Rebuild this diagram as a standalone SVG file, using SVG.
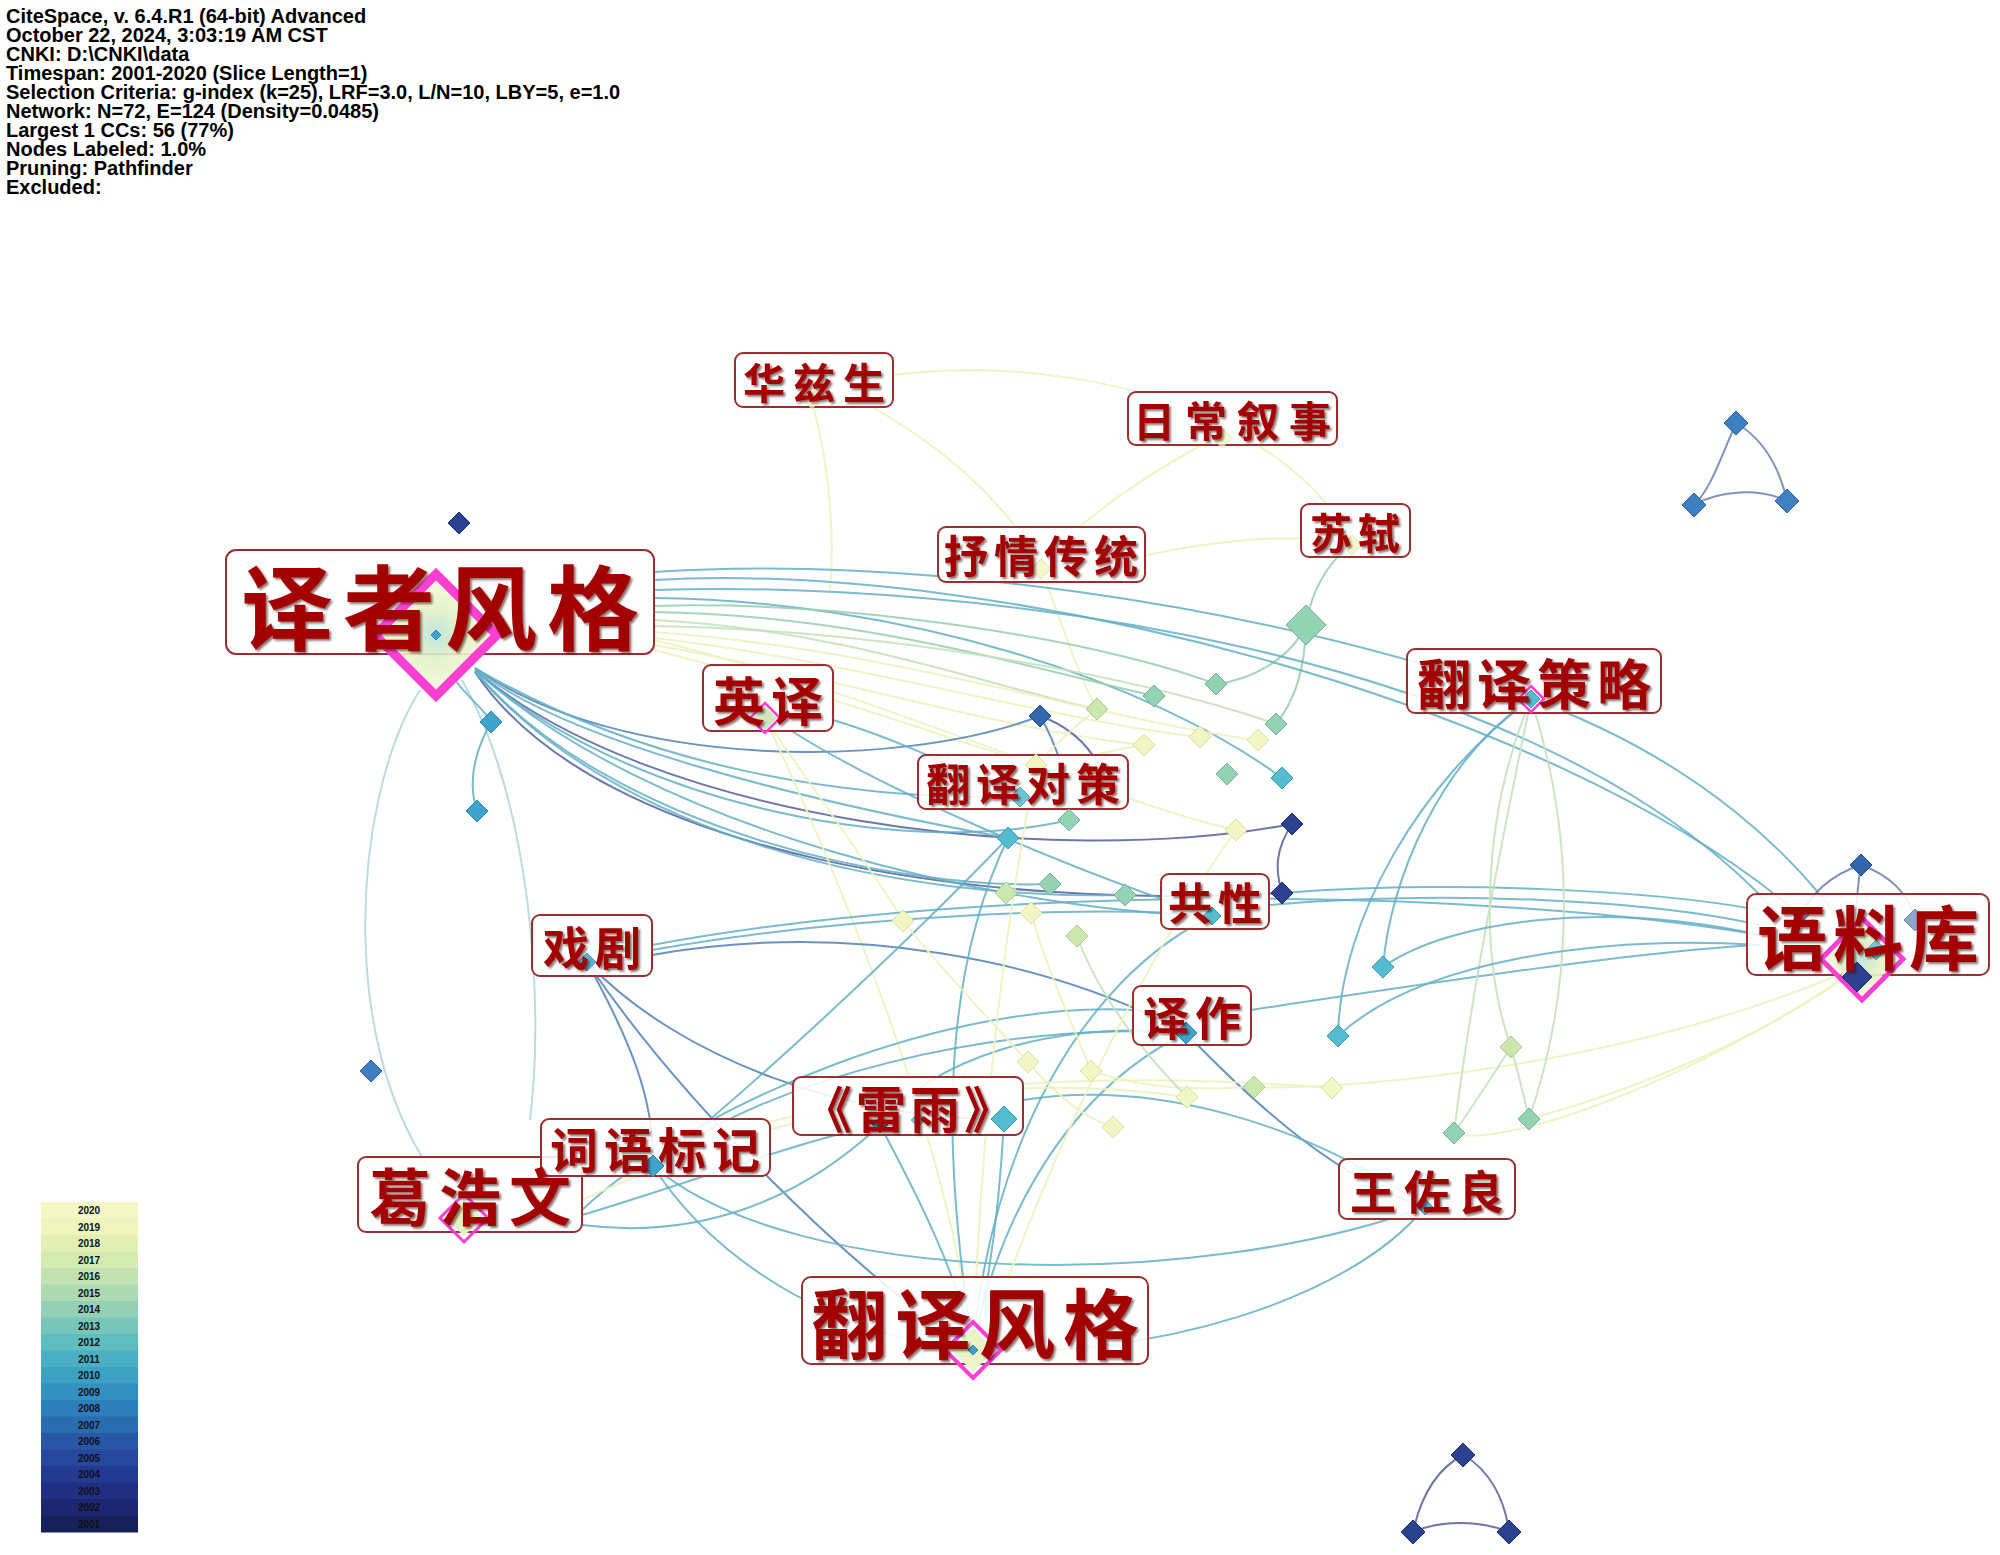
<svg xmlns="http://www.w3.org/2000/svg" width="2000" height="1555" viewBox="0 0 2000 1555">
<defs>
<style>
.info{font-family:"Liberation Sans",Arial,sans-serif;font-weight:bold;font-size:20px;fill:#000}
.leg{font-family:"Liberation Sans",Arial,sans-serif;font-weight:bold;font-size:10px;fill:#111;text-anchor:middle}
.box{fill:#fff;fill-opacity:0.88;stroke:#9b2f2f;stroke-width:2}
.lbl{font-family:"Noto Sans CJK SC","Noto Sans CJK TC",sans-serif;font-weight:bold;fill:#a30000;text-anchor:middle;dominant-baseline:central;filter:url(#sh)}
#edges path{fill:none;stroke-width:2}
.et{stroke:#63afc6;stroke-opacity:.85}
.eb{stroke:#4f80b6;stroke-opacity:.85}
.en{stroke:#525fa0;stroke-opacity:.85}
.ey{stroke:#edf2bf;stroke-opacity:.9}
.eg{stroke:#c4e2bd;stroke-opacity:.9}
.egr{stroke:#9ccfb3;stroke-opacity:.9}
.ebg{stroke:#6f86b5;stroke-opacity:.9}
.nv{fill:#2c418f;stroke:#1f2f70}
.db{fill:#3267ad;stroke:#234f8a}
.bl{fill:#3f80c2;stroke:#2d63a0}
.tb{fill:#3fa3cc;stroke:#2f85ab}
.tl{fill:#55bcd0;stroke:#3a9cb0}
.gr{fill:#93d2b2;stroke:#70b494}
.pg{fill:#cbe7ae;stroke:#a8cc90}
.py{fill:#f1f6c4;stroke:#d8e0a0}
.lb{fill:#8fa6d0;stroke:#6a82b5}
.mg{fill:none;stroke:#ff3fd2}
</style>
<filter id="sh" x="-10%" y="-10%" width="130%" height="140%">
<feDropShadow dx="2" dy="2" stdDeviation="1.2" flood-color="#2a0000" flood-opacity="0.55"/>
</filter>
<radialGradient id="core" cx="50%" cy="50%" r="50%">
<stop offset="0" stop-color="#b9e3d6"/>
<stop offset="0.5" stop-color="#e4f2c6"/>
<stop offset="1" stop-color="#f6f9dc"/>
</radialGradient>
</defs>
<rect width="2000" height="1555" fill="#fff"/>

<g id="info">
<text class="info" x="6" y="23">CiteSpace, v. 6.4.R1 (64-bit) Advanced</text>
<text class="info" x="6" y="42">October 22, 2024, 3:03:19 AM CST</text>
<text class="info" x="6" y="61">CNKI: D:\CNKI\data</text>
<text class="info" x="6" y="80">Timespan: 2001-2020 (Slice Length=1)</text>
<text class="info" x="6" y="99">Selection Criteria: g-index (k=25), LRF=3.0, L/N=10, LBY=5, e=1.0</text>
<text class="info" x="6" y="118">Network: N=72, E=124 (Density=0.0485)</text>
<text class="info" x="6" y="137">Largest 1 CCs: 56 (77%)</text>
<text class="info" x="6" y="156">Nodes Labeled: 1.0%</text>
<text class="info" x="6" y="175">Pruning: Pathfinder</text>
<text class="info" x="6" y="194">Excluded:</text>
</g>

<g id="edges">
<path class="ey" d="M893,375 C1000,360 1150,380 1230,430"/>
<path class="ey" d="M1230,430 C1150,470 1080,520 1040,565"/>
<path class="ey" d="M1230,430 C1290,460 1330,500 1350,540"/>
<path class="ey" d="M1146,555 C1220,540 1280,535 1340,540"/>
<path class="ey" d="M860,400 C950,450 1000,500 1040,560"/>
<path class="ey" d="M812,400 C830,470 835,530 830,590"/>
<path class="ey" d="M1040,565 C1060,620 1080,680 1097,709"/>
<path class="egr" d="M1350,545 C1320,570 1310,600 1306,625"/>
<path class="egr" d="M1306,625 C1290,660 1250,680 1216,684"/>
<path class="egr" d="M1306,625 C1305,670 1295,700 1276,724"/>
<path class="et" d="M654,572 C900,555 1250,600 1531,699"/>
<path class="et" d="M654,580 C1000,560 1550,700 1800,915"/>
<path class="et" d="M654,590 C950,580 1550,640 1790,928"/>
<path class="et" d="M654,598 C900,600 1150,680 1282,778"/>
<path class="egr" d="M654,606 C850,600 1100,640 1216,684"/>
<path class="egr" d="M654,612 C850,615 1000,660 1154,696"/>
<path class="eg" d="M654,620 C850,630 1000,690 1097,709"/>
<path class="eg" d="M654,626 C900,630 1150,680 1276,724"/>
<path class="ey" d="M654,632 C900,650 1100,720 1258,740"/>
<path class="ey" d="M654,638 C850,660 1050,720 1200,737"/>
<path class="ey" d="M654,645 C850,680 1000,730 1144,745"/>
<path class="ey" d="M654,650 C850,700 950,740 1036,765"/>
<path class="ey" d="M654,640 C900,700 1100,800 1236,830"/>
<path class="eb" d="M475,668 C620,770 900,770 1040,716"/>
<path class="en" d="M475,670 C650,820 1050,870 1292,824"/>
<path class="en" d="M475,672 C600,860 1000,910 1282,893"/>
<path class="et" d="M475,668 C650,770 850,800 1020,797"/>
<path class="et" d="M475,670 C650,830 1000,910 1212,916"/>
<path class="et" d="M475,670 C620,800 900,860 1069,820"/>
<path class="et" d="M475,672 C620,840 900,900 1125,895"/>
<path class="et" d="M475,671 C610,830 900,890 1050,884"/>
<path class="et" d="M475,668 C560,740 800,800 1008,838"/>
<path class="et" style="stroke-opacity:.45" d="M420,690 C350,800 330,1080 464,1210"/>
<path class="et" style="stroke-opacity:.45" d="M462,680 C530,800 545,1000 530,1120"/>
<path class="et" d="M455,680 C470,700 485,710 491,722"/>
<path class="et" d="M491,722 C470,760 470,790 477,811"/>
<path class="ey" d="M765,718 C820,800 880,880 903,921"/>
<path class="ey" d="M765,718 C850,900 950,1150 973,1350"/>
<path class="et" d="M833,720 C900,740 960,770 1020,797"/>
<path class="et" d="M790,730 C900,800 1100,880 1212,916"/>
<path class="eb" d="M1040,716 C1060,750 1070,790 1069,820"/>
<path class="en" d="M1040,716 C1080,730 1100,760 1110,790"/>
<path class="ey" d="M1036,765 C1080,760 1110,750 1144,745"/>
<path class="ey" d="M1097,709 C1070,730 1050,750 1036,765"/>
<path class="en" d="M1292,824 C1275,850 1275,870 1282,893"/>
<path class="et" d="M1282,893 C1450,880 1650,890 1760,910"/>
<path class="et" d="M1269,905 C1450,890 1650,900 1760,925"/>
<path class="et" d="M652,945 C1000,880 1500,890 1760,935"/>
<path class="eb" d="M652,955 C850,920 1050,960 1186,1033"/>
<path class="et" d="M652,950 C850,915 1100,905 1212,916"/>
<path class="eb" d="M587,962 C680,1060 850,1120 1004,1119"/>
<path class="eb" d="M587,962 C680,1100 850,1270 973,1350"/>
<path class="eb" d="M587,962 C630,1040 655,1100 653,1166"/>
<path class="eb" d="M1186,1033 C1260,1110 1340,1180 1425,1207"/>
<path class="et" d="M1186,1033 C1000,1020 760,1080 653,1166"/>
<path class="et" d="M1186,1033 C1050,1100 990,1250 973,1350"/>
<path class="et" d="M1186,1033 C1050,1020 930,1060 880,1125"/>
<path class="et" d="M1133,1010 C950,1000 700,1100 582,1210"/>
<path class="et" d="M1251,1010 C1450,980 1650,950 1760,945"/>
<path class="et" d="M1425,1207 C1350,1300 1150,1360 973,1350"/>
<path class="et" d="M653,1166 C800,1290 1200,1290 1425,1207"/>
<path class="et" d="M582,1215 C700,1180 800,1140 880,1125"/>
<path class="et" d="M1023,1100 C1150,1080 1300,1120 1425,1207"/>
<path class="et" d="M1004,1119 C1000,1200 990,1280 973,1350"/>
<path class="et" d="M880,1125 C920,1200 960,1280 973,1350"/>
<path class="et" d="M1008,838 C900,950 750,1090 653,1166"/>
<path class="et" d="M1008,838 C930,1000 950,1200 973,1350"/>
<path class="et" d="M973,1350 C990,1150 1080,980 1212,916"/>
<path class="et" d="M653,1166 C720,1270 850,1340 973,1350"/>
<path class="et" d="M582,1225 C700,1240 800,1200 880,1125"/>
<path class="ey" d="M582,1200 C800,1100 1000,1070 1187,1097"/>
<path class="ey" d="M653,1160 C850,1080 1100,1070 1332,1088"/>
<path class="ey" d="M1028,1062 C1060,1100 1090,1120 1113,1127"/>
<path class="ey" d="M1091,1071 C1150,1090 1200,1090 1254,1087"/>
<path class="ey" d="M903,921 C950,980 1000,1030 1028,1062"/>
<path class="ey" d="M1031,913 C1050,980 1080,1040 1091,1071"/>
<path class="eg" d="M1077,936 C1100,1000 1150,1060 1187,1097"/>
<path class="ey" d="M1036,765 C1000,950 980,1150 973,1350"/>
<path class="ey" d="M1236,830 C1150,950 1050,1150 990,1330"/>
<path class="ey" d="M1862,965 C1600,1080 1300,1090 1254,1087"/>
<path class="ey" d="M1862,965 C1700,1080 1500,1150 1454,1133"/>
<path class="et" d="M1531,699 C1440,760 1390,880 1383,967"/>
<path class="et" d="M1531,699 C1420,780 1340,920 1338,1036"/>
<path class="eg" d="M1531,699 C1480,820 1480,960 1511,1047"/>
<path class="eg" d="M1531,699 C1580,850 1570,1000 1529,1119"/>
<path class="eg" d="M1531,699 C1500,850 1470,1000 1454,1133"/>
<path class="et" d="M1531,699 C1700,760 1800,860 1850,935"/>
<path class="eg" d="M1511,1047 C1520,1080 1525,1100 1529,1119"/>
<path class="eg" d="M1511,1047 C1490,1080 1470,1110 1454,1133"/>
<path class="et" d="M1760,935 C1600,900 1450,920 1383,967"/>
<path class="et" d="M1760,945 C1600,935 1420,960 1338,1036"/>
<path class="ey" d="M1862,965 C1750,1050 1600,1100 1529,1119"/>
<path class="ebg" d="M1861,865 C1830,875 1810,895 1801,915"/>
<path class="ebg" d="M1861,865 C1890,875 1910,895 1915,920"/>
<path class="ebg" d="M1861,865 C1855,900 1855,940 1857,977"/>
<path class="ebg" d="M1736,423 C1720,460 1710,490 1694,505"/>
<path class="ebg" d="M1736,423 C1765,440 1780,470 1787,501"/>
<path class="ebg" d="M1694,505 C1720,490 1760,488 1787,501"/>
<path class="en" d="M1463,1455 C1435,1470 1420,1500 1413,1532"/>
<path class="en" d="M1463,1455 C1490,1470 1505,1500 1509,1532"/>
<path class="en" d="M1413,1532 C1440,1520 1480,1520 1509,1532"/>
</g>

<g id="boxes">
<rect class="box" x="226" y="550" width="428" height="104" rx="10"/>
<rect class="box" x="802" y="1277" width="346" height="87" rx="9"/>
<rect class="box" x="1747" y="894" width="242" height="81" rx="9"/>
<rect class="box" x="358" y="1157" width="224" height="75" rx="8"/>
<rect class="box" x="1407" y="649" width="254" height="64" rx="8"/>
<rect class="box" x="793" y="1077" width="230" height="58" rx="8"/>
<rect class="box" x="541" y="1119" width="229" height="57" rx="8"/>
<rect class="box" x="918" y="755" width="210" height="54" rx="8"/>
<rect class="box" x="1128" y="392" width="209" height="53" rx="8"/>
<rect class="box" x="938" y="527" width="207" height="55" rx="8"/>
<rect class="box" x="735" y="353" width="158" height="54" rx="8"/>
<rect class="box" x="1301" y="504" width="109" height="53" rx="8"/>
<rect class="box" x="703" y="665" width="130" height="66" rx="8"/>
<rect class="box" x="1161" y="874" width="108" height="55" rx="8"/>
<rect class="box" x="532" y="915" width="120" height="61" rx="8"/>
<rect class="box" x="1133" y="986" width="118" height="59" rx="8"/>
<rect class="box" x="1339" y="1159" width="176" height="60" rx="8"/>
</g>

<g id="nodes">
<g id="n-yzfg">
<path d="M436,580 L491,635 L436,690 L381,635 Z" fill="url(#core)" opacity="0.9"/>
<path class="mg" stroke-width="9" d="M436,574 L497,635 L436,696 L375,635 Z"/>
<path class="tb" d="M436,630 L441,635 L436,640 L431,635 Z"/>
</g>
<g id="n-yy">
<path d="M765,706 L777,718 L765,730 L753,718 Z" fill="#cfe8c0"/>
<path class="mg" stroke-width="2.5" d="M765,703 L780,718 L765,733 L750,718 Z"/>
</g>
<g id="n-hzs"><path class="py" d="M812,389 L822,399 L812,409 L802,399 Z" opacity="0.7"/></g>
<g id="n-rcxs"><path class="py" d="M1222,428 L1232,438 L1222,448 L1212,438 Z" opacity="0.7"/></g>
<g id="n-sqct"><path class="py" d="M1041,559 L1051,569 L1041,579 L1031,569 Z" opacity="0.8"/></g>
<g id="n-ss"><path class="py" d="M1352,535 L1362,545 L1352,555 L1342,545 Z" opacity="0.8"/></g>
<g id="n-fycl">
<path class="tl" d="M1531,690 L1540,699 L1531,708 L1522,699 Z"/>
<path class="mg" stroke-width="2.5" d="M1531,686 L1544,699 L1531,712 L1518,699 Z"/>
</g>
<g id="n-fydc"><path class="tl" d="M1020,787 L1030,797 L1020,807 L1010,797 Z" opacity="0.85"/></g>
<g id="n-gx"><path class="tl" d="M1212,907 L1221,916 L1212,925 L1203,916 Z"/></g>
<g id="n-ylk">
<path d="M1862,922 L1899,959 L1862,996 L1825,959 Z" fill="url(#core)" opacity="0.9"/>
<path class="mg" stroke-width="5" d="M1862,918 L1903,959 L1862,1000 L1821,959 Z"/>
<path class="nv" d="M1857,962 L1872,977 L1857,992 L1842,977 Z"/>
<path class="tl" d="M1876,940 L1886,950 L1876,960 L1866,950 Z" opacity="0.8"/>
</g>
<g id="n-xj"><path class="tb" d="M587,953 L596,962 L587,971 L578,962 Z" opacity="0.85"/></g>
<g id="n-yz"><path class="tb" d="M1186,1022 L1197,1033 L1186,1044 L1175,1033 Z"/></g>
<g id="n-ly">
<path class="tb" d="M880,1117 L888,1125 L880,1133 L872,1125 Z"/>
<path class="tl" d="M918,1113 L925,1120 L918,1127 L911,1120 Z" opacity="0.8"/>
</g>
<g id="n-cybj"><path class="tb" d="M653,1155 L664,1166 L653,1177 L642,1166 Z"/></g>
<g id="n-ghw">
<path d="M464,1200 L482,1218 L464,1236 L446,1218 Z" fill="#e8f3c4"/>
<path class="mg" stroke-width="3" d="M464,1194 L488,1218 L464,1242 L440,1218 Z"/>
</g>
<g id="n-wzl"><path class="tb" d="M1425,1199 L1433,1207 L1425,1215 L1417,1207 Z" opacity="0.85"/></g>
<g id="n-fyfg">
<path d="M973,1328 L995,1350 L973,1372 L951,1350 Z" fill="#eaf4c8"/>
<path class="mg" stroke-width="4" d="M973,1322 L1001,1350 L973,1378 L945,1350 Z"/>
<path class="tb" d="M973,1345 L978,1350 L973,1355 L968,1350 Z"/>
</g>
<g id="n1"><path class="nv" d="M459,512 L470,523 L459,534 L448,523 Z"/></g>
<g id="n2"><path class="tb" d="M491,711 L502,722 L491,733 L480,722 Z"/></g>
<g id="n3"><path class="tb" d="M477,800 L488,811 L477,822 L466,811 Z"/></g>
<g id="n4"><path class="bl" d="M371,1060 L382,1071 L371,1082 L360,1071 Z"/></g>
<g id="n5"><path class="db" d="M1040,705 L1051,716 L1040,727 L1029,716 Z"/></g>
<g id="n6"><path class="pg" d="M1097,698 L1108,709 L1097,720 L1086,709 Z"/></g>
<g id="n7"><path class="gr" d="M1154,685 L1165,696 L1154,707 L1143,696 Z"/></g>
<g id="n8"><path class="gr" d="M1216,673 L1227,684 L1216,695 L1205,684 Z"/></g>
<g id="n9"><path class="gr" d="M1306,605 L1326,625 L1306,645 L1286,625 Z"/></g>
<g id="n10"><path class="gr" d="M1276,713 L1287,724 L1276,735 L1265,724 Z"/></g>
<g id="n11"><path class="py" d="M1258,729 L1269,740 L1258,751 L1247,740 Z"/></g>
<g id="n12"><path class="py" d="M1200,726 L1211,737 L1200,748 L1189,737 Z"/></g>
<g id="n13"><path class="py" d="M1144,734 L1155,745 L1144,756 L1133,745 Z"/></g>
<g id="n14"><path class="py" d="M1036,754 L1047,765 L1036,776 L1025,765 Z"/></g>
<g id="n15"><path class="gr" d="M1227,763 L1238,774 L1227,785 L1216,774 Z"/></g>
<g id="n16"><path class="tl" d="M1282,767 L1293,778 L1282,789 L1271,778 Z"/></g>
<g id="n17"><path class="nv" d="M1292,813 L1303,824 L1292,835 L1281,824 Z"/></g>
<g id="n18"><path class="py" d="M1236,819 L1247,830 L1236,841 L1225,830 Z"/></g>
<g id="n19"><path class="gr" d="M1069,809 L1080,820 L1069,831 L1058,820 Z"/></g>
<g id="n20"><path class="tl" d="M1008,827 L1019,838 L1008,849 L997,838 Z"/></g>
<g id="n21"><path class="pg" d="M1006,882 L1017,893 L1006,904 L995,893 Z"/></g>
<g id="n22"><path class="gr" d="M1050,873 L1061,884 L1050,895 L1039,884 Z"/></g>
<g id="n23"><path class="gr" d="M1125,884 L1136,895 L1125,906 L1114,895 Z"/></g>
<g id="n24"><path class="py" d="M1031,902 L1042,913 L1031,924 L1020,913 Z"/></g>
<g id="n25"><path class="pg" d="M1077,925 L1088,936 L1077,947 L1066,936 Z"/></g>
<g id="n26"><path class="py" d="M903,910 L914,921 L903,932 L892,921 Z"/></g>
<g id="n27"><path class="nv" d="M1282,882 L1293,893 L1282,904 L1271,893 Z"/></g>
<g id="n28"><path class="py" d="M1028,1051 L1039,1062 L1028,1073 L1017,1062 Z"/></g>
<g id="n29"><path class="py" d="M1091,1060 L1102,1071 L1091,1082 L1080,1071 Z"/></g>
<g id="n30"><path class="py" d="M1187,1086 L1198,1097 L1187,1108 L1176,1097 Z"/></g>
<g id="n31"><path class="pg" d="M1254,1076 L1265,1087 L1254,1098 L1243,1087 Z"/></g>
<g id="n32"><path class="py" d="M1332,1077 L1343,1088 L1332,1099 L1321,1088 Z"/></g>
<g id="n33"><path class="py" d="M1113,1116 L1124,1127 L1113,1138 L1102,1127 Z"/></g>
<g id="n34"><path class="tl" d="M1004,1106 L1017,1119 L1004,1132 L991,1119 Z"/></g>
<g id="n35"><path class="tl" d="M1383,956 L1394,967 L1383,978 L1372,967 Z"/></g>
<g id="n36"><path class="tl" d="M1338,1025 L1349,1036 L1338,1047 L1327,1036 Z"/></g>
<g id="n37"><path class="pg" d="M1511,1036 L1522,1047 L1511,1058 L1500,1047 Z"/></g>
<g id="n38"><path class="gr" d="M1529,1108 L1540,1119 L1529,1130 L1518,1119 Z"/></g>
<g id="n39"><path class="gr" d="M1454,1122 L1465,1133 L1454,1144 L1443,1133 Z"/></g>
<g id="n40"><path class="db" d="M1861,854 L1872,865 L1861,876 L1850,865 Z"/></g>
<g id="n41"><path class="lb" d="M1915,909 L1926,920 L1915,931 L1904,920 Z"/></g>
<g id="n42"><path class="lb" d="M1801,907 L1809,915 L1801,923 L1793,915 Z"/></g>
<g id="n43"><path class="bl" d="M1736,411 L1748,423 L1736,435 L1724,423 Z"/></g>
<g id="n44"><path class="bl" d="M1694,493 L1706,505 L1694,517 L1682,505 Z"/></g>
<g id="n45"><path class="bl" d="M1787,489 L1799,501 L1787,513 L1775,501 Z"/></g>
<g id="n46"><path class="nv" d="M1463,1443 L1475,1455 L1463,1467 L1451,1455 Z"/></g>
<g id="n47"><path class="nv" d="M1413,1520 L1425,1532 L1413,1544 L1401,1532 Z"/></g>
<g id="n48"><path class="nv" d="M1509,1520 L1521,1532 L1509,1544 L1497,1532 Z"/></g>
</g>

<g id="labels">
<text class="lbl" x="445" y="602" font-size="92" letter-spacing="10">译者风格</text>
<text class="lbl" x="979" y="1320" font-size="76" letter-spacing="8">翻译风格</text>
<text class="lbl" x="1871" y="934" font-size="70" letter-spacing="6">语料库</text>
<text class="lbl" x="474" y="1194" font-size="62" letter-spacing="8">葛浩文</text>
<text class="lbl" x="1537" y="681" font-size="54" letter-spacing="6">翻译策略</text>
<text class="lbl" x="910" y="1106" font-size="50" letter-spacing="4">《雷雨》</text>
<text class="lbl" x="658" y="1147" font-size="48" letter-spacing="6">词语标记</text>
<text class="lbl" x="1026" y="782" font-size="44" letter-spacing="6">翻译对策</text>
<text class="lbl" x="1237" y="418" font-size="42" letter-spacing="10">日常叙事</text>
<text class="lbl" x="1044" y="554" font-size="44" letter-spacing="6">抒情传统</text>
<text class="lbl" x="818" y="380" font-size="42" letter-spacing="8">华兹生</text>
<text class="lbl" x="1358" y="530" font-size="42" letter-spacing="6">苏轼</text>
<text class="lbl" x="771" y="698" font-size="52" letter-spacing="6">英译</text>
<text class="lbl" x="1218" y="901" font-size="44" letter-spacing="6">共性</text>
<text class="lbl" x="595" y="945" font-size="46" letter-spacing="6">戏剧</text>
<text class="lbl" x="1195" y="1015" font-size="46" letter-spacing="6">译作</text>
<text class="lbl" x="1431" y="1189" font-size="46" letter-spacing="8">王佐良</text>
</g>

<g id="legend">
<rect x="41" y="1202" width="97" height="17" fill="#f5f8c6"/>
<rect x="41" y="1218.5" width="97" height="17" fill="#eef5bb"/>
<rect x="41" y="1235" width="97" height="17" fill="#e3f0b3"/>
<rect x="41" y="1251.5" width="97" height="17" fill="#d4ebb0"/>
<rect x="41" y="1268" width="97" height="17" fill="#c2e3b1"/>
<rect x="41" y="1284.5" width="97" height="17" fill="#abdab3"/>
<rect x="41" y="1301" width="97" height="17" fill="#93d0b6"/>
<rect x="41" y="1317.5" width="97" height="17" fill="#78c6b9"/>
<rect x="41" y="1334" width="97" height="17" fill="#5fbcbf"/>
<rect x="41" y="1350.5" width="97" height="17" fill="#4aafc2"/>
<rect x="41" y="1367" width="97" height="17" fill="#3da1c2"/>
<rect x="41" y="1383.5" width="97" height="17" fill="#3390c0"/>
<rect x="41" y="1400" width="97" height="17" fill="#2c7fba"/>
<rect x="41" y="1416.5" width="97" height="17" fill="#2a6cb0"/>
<rect x="41" y="1433" width="97" height="17" fill="#2858a5"/>
<rect x="41" y="1449.5" width="97" height="17" fill="#26479b"/>
<rect x="41" y="1466" width="97" height="17" fill="#243a90"/>
<rect x="41" y="1482.5" width="97" height="17" fill="#212f82"/>
<rect x="41" y="1499" width="97" height="17" fill="#1d2670"/>
<rect x="41" y="1515.5" width="97" height="17" fill="#18205c"/>
<text class="leg" x="89" y="1214">2020</text>
<text class="leg" x="89" y="1230.5">2019</text>
<text class="leg" x="89" y="1247">2018</text>
<text class="leg" x="89" y="1263.5">2017</text>
<text class="leg" x="89" y="1280">2016</text>
<text class="leg" x="89" y="1296.5">2015</text>
<text class="leg" x="89" y="1313">2014</text>
<text class="leg" x="89" y="1329.5">2013</text>
<text class="leg" x="89" y="1346">2012</text>
<text class="leg" x="89" y="1362.5">2011</text>
<text class="leg" x="89" y="1379">2010</text>
<text class="leg" x="89" y="1395.5">2009</text>
<text class="leg" x="89" y="1412">2008</text>
<text class="leg" x="89" y="1428.5">2007</text>
<text class="leg" x="89" y="1445">2006</text>
<text class="leg" x="89" y="1461.5">2005</text>
<text class="leg" x="89" y="1478">2004</text>
<text class="leg" x="89" y="1494.5">2003</text>
<text class="leg" x="89" y="1511">2002</text>
<text class="leg" x="89" y="1527.5">2001</text>
</g>
</svg>
